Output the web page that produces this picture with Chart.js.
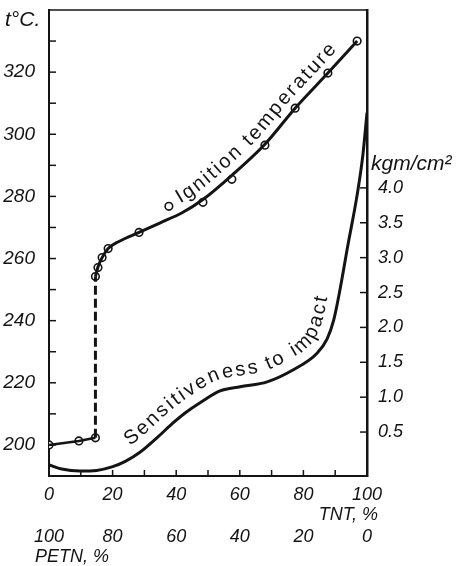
<!DOCTYPE html>
<html><head><meta charset="utf-8">
<script src="https://cdn.jsdelivr.net/npm/chart.js@4.4.0/dist/chart.umd.min.js"></script>
<style>html,body{margin:0;padding:0;background:#fff}</style>
</head><body>
<canvas id="c" width="461" height="566"></canvas>
<script>
// ---- data ----
const tntTicks = [0, 20, 40, 60, 80, 100];
const petnLabels = ['100', '80', '60', '40', '20', '0'];
const tempTicks = [200, 220, 240, 260, 280, 300, 320];
const tempMinorTicks = [200, 210, 220, 230, 240, 250, 260, 270, 280, 290, 300, 310, 320, 330];
const tntMinorTicks = [10, 20, 30, 40, 50, 60, 70, 80, 90];
const impactTicks = [0.5, 1.0, 1.5, 2.0, 2.5, 3.0, 3.5, 4.0];

// ignition temperature, low-TNT segment (solid)
const ignLowX = [0, 9.4, 14.6];
const ignLowY = [200, 201.3, 202.3];
// jump (dashed)
const ignJumpX = [14.6, 14.6];
const ignJumpY = [202.3, 254.2];
// smoothed ignition curve
const ignCurveX = [14.6, 15.4, 16.7, 18.6, 22, 28.3, 35, 42, 48.4, 57.5, 67.9, 77.4, 87.7, 96.9];
const ignCurveY = [254.2, 257.3, 260.3, 263.2, 265.5, 268.4, 271.5, 274.8, 279, 286.8, 296.8, 308.4, 319.7, 330];
// measured points (circles)
const ignPointX = [0, 9.4, 14.6, 14.6, 15.4, 16.7, 18.6, 28.3, 37.7, 48.4, 57.5, 67.9, 77.4, 87.7, 96.9];
const ignPointY = [200, 201.3, 202.3, 254.2, 257.1, 260.3, 263.2, 268.4, 276.8, 278.1, 285.5, 296.5, 308.4, 319.7, 330.0];
// sensitiveness to impact (kgm/cm2)
const sensX = [0, 4, 9.7, 15, 19.8, 24, 28.6, 34, 39, 43, 47.5, 53.8, 60.1, 68.6, 76.7, 84.3, 87.5, 89.5, 91.5, 94, 96.9, 98.7, 100];
const sensY = [0.03, -0.03, -0.06, -0.05, 0.0, 0.08, 0.21, 0.42, 0.63, 0.78, 0.92, 1.09, 1.15, 1.22, 1.39, 1.63, 1.84, 2.1, 2.54, 3.18, 3.9, 4.47, 5.08];

const zip = (xs, ys) => xs.map((x, i) => ({x, y: ys[i]}));
const INK = '#141414';
const FAM = "'Liberation Sans',Arial,sans-serif";
const TICKFONT = {family: FAM, size: 19, style: 'italic'};

function fixSize(prop, val) {
  return function (s) {
    s[prop] = val;
    s.paddingTop = 0; s.paddingBottom = 0; s.paddingLeft = 0; s.paddingRight = 0;
  };
}

// sample the rendered bezier of a line dataset
function sampleCurve(meta) {
  const pts = meta.data, out = [];
  for (let i = 0; i < pts.length - 1; i++) {
    const a = pts[i], b = pts[i + 1];
    const c1x = a.cp2x ?? a.x, c1y = a.cp2y ?? a.y, c2x = b.cp1x ?? b.x, c2y = b.cp1y ?? b.y;
    for (let k = 0; k < 30; k++) {
      const t = k / 30, u = 1 - t;
      out.push({
        x: u*u*u*a.x + 3*u*u*t*c1x + 3*u*t*t*c2x + t*t*t*b.x,
        y: u*u*u*a.y + 3*u*u*t*c1y + 3*u*t*t*c2y + t*t*t*b.y
      });
    }
  }
  const l = pts[pts.length - 1];
  out.push({x: l.x, y: l.y});
  return out;
}

function textOnCurve(ctx, text, meta, startPx, endPx, off, font) {
  const c = sampleCurve(meta);
  const q = [];
  for (let i = 0; i < c.length; i++) {
    const a = c[Math.max(0, i - 3)], b = c[Math.min(c.length - 1, i + 3)];
    let tx = b.x - a.x, ty = b.y - a.y; const L = Math.hypot(tx, ty) || 1; tx /= L; ty /= L;
    q.push({x: c[i].x + ty * off, y: c[i].y - tx * off, cx: c[i].x});
  }
  const cum = [0];
  for (let i = 1; i < q.length; i++) cum.push(cum[i - 1] + Math.hypot(q[i].x - q[i - 1].x, q[i].y - q[i - 1].y));
  const idxAt = px => { for (let i = 0; i < q.length; i++) if (q[i].cx >= px) return i; return q.length - 1; };
  const s0 = cum[idxAt(startPx)], s1 = cum[idxAt(endPx)];
  ctx.save();
  ctx.font = font; ctx.fillStyle = INK; ctx.textAlign = 'center'; ctx.textBaseline = 'alphabetic';
  const chars = [...text], ws = chars.map(ch => ctx.measureText(ch).width);
  const W = ws.reduce((p, v) => p + v, 0);
  const gap = (s1 - s0 - W) / (chars.length - 1);
  let s = s0;
  chars.forEach((ch, i) => {
    const sc = s + ws[i] / 2;
    let j = 1; while (j < cum.length - 1 && cum[j] < sc) j++;
    const f = (sc - cum[j - 1]) / ((cum[j] - cum[j - 1]) || 1);
    const x = q[j - 1].x + (q[j].x - q[j - 1].x) * f, y = q[j - 1].y + (q[j].y - q[j - 1].y) * f;
    const j0 = Math.max(0, j - 4), j1 = Math.min(q.length - 1, j + 3);
    const ang = Math.atan2(q[j1].y - q[j0].y, q[j1].x - q[j0].x);
    ctx.save(); ctx.translate(x, y); ctx.rotate(ang); ctx.fillText(ch, 0, 0); ctx.restore();
    s += ws[i] + gap;
  });
  ctx.restore();
}

const decor = {
  id: 'decor',
  afterDraw(chart) {
    const {ctx, chartArea: ca, scales} = chart;
    const xs = scales.x, ys = scales.y, y2 = scales.y2;
    ctx.save();
    ctx.strokeStyle = INK; ctx.lineWidth = 1.5;
    // top frame line
    ctx.beginPath(); ctx.moveTo(ca.left, ca.top); ctx.lineTo(ca.right, ca.top); ctx.stroke();
    // inward ticks
    tempMinorTicks.forEach(v => { const p = ys.getPixelForValue(v); ctx.beginPath(); ctx.moveTo(ca.left, p); ctx.lineTo(ca.left + 7, p); ctx.stroke(); });
    impactTicks.forEach(v => { const p = y2.getPixelForValue(v); ctx.beginPath(); ctx.moveTo(ca.right, p); ctx.lineTo(ca.right - 7, p); ctx.stroke(); });
    tntMinorTicks.forEach(v => { const p = xs.getPixelForValue(v); ctx.beginPath(); ctx.moveTo(p, ca.bottom); ctx.lineTo(p, ca.bottom - 6); ctx.stroke(); });
    // axis titles
    ctx.fillStyle = INK; ctx.textBaseline = 'alphabetic';
    ctx.font = "italic 21px " + FAM;
    ctx.textAlign = 'left'; ctx.fillText('t°C.', 5, 26);
    ctx.fillText('kgm/cm²', ca.right + 4, 170);
    ctx.font = "italic 18px " + FAM;
    ctx.textAlign = 'right'; ctx.fillText('TNT, %', ca.right + 11, 520);
    ctx.textAlign = 'left'; ctx.fillText('PETN, %', 35, 562);
    ctx.restore();
    // curve labels
    const f = "20px " + FAM;
    textOnCurve(ctx, 'Ignition temperature', chart.getDatasetMeta(2), 184, 343, 9, f);
    textOnCurve(ctx, 'Sensitiveness to impact', chart.getDatasetMeta(4), 136, 338, 11, f);
  }
};

new Chart(document.getElementById('c'), {
  type: 'line',
  data: {
    datasets: [
      {data: zip(ignLowX, ignLowY), yAxisID: 'y', borderColor: INK, borderWidth: 2.5, pointRadius: 0, tension: 0},
      {data: zip(ignJumpX, ignJumpY), yAxisID: 'y', borderColor: INK, borderWidth: 3, borderDash: [9, 4], pointRadius: 0, tension: 0},
      {data: zip(ignCurveX, ignCurveY), yAxisID: 'y', borderColor: INK, borderWidth: 3, pointRadius: 0, cubicInterpolationMode: 'monotone'},
      {data: zip(ignPointX, ignPointY), yAxisID: 'y', showLine: false, pointRadius: 3.8, pointBorderWidth: 1.6, pointBackgroundColor: '#fff', pointBorderColor: INK},
      {data: zip(sensX, sensY), yAxisID: 'y2', borderColor: INK, borderWidth: 3, pointRadius: 0, cubicInterpolationMode: 'monotone'}
    ]
  },
  options: {
    responsive: false, animation: false, devicePixelRatio: 1,
    layout: {padding: {top: 10, left: 0, right: 0, bottom: 0}},
    plugins: {legend: {display: false}, tooltip: {enabled: false}},
    scales: {
      x: {
        type: 'linear', position: 'bottom', min: 0, max: 100, weight: 0,
        afterBuildTicks: s => { s.ticks = tntTicks.map(v => ({value: v})); },
        afterFit: fixSize('height', 42),
        ticks: {font: {...TICKFONT, size: 18}, color: INK, padding: 0, maxRotation: 0, autoSkip: false},
        grid: {display: false}, border: {display: true, color: INK, width: 2}
      },
      x2: {
        type: 'linear', position: 'bottom', min: 0, max: 100, weight: 1,
        afterBuildTicks: s => { s.ticks = tntTicks.map(v => ({value: v})); },
        afterFit: fixSize('height', 48),
        ticks: {font: {...TICKFONT, size: 18}, color: INK, padding: 0, maxRotation: 0, autoSkip: false,
          callback: (v, i) => petnLabels[i]},
        grid: {display: false}, border: {display: false}
      },
      y: {
        type: 'linear', position: 'left', min: 190, max: 340,
        afterBuildTicks: s => { s.ticks = tempTicks.map(v => ({value: v})); },
        afterFit: fixSize('width', 49),
        ticks: {font: TICKFONT, color: INK, padding: 6},
        grid: {display: false}, border: {display: true, color: INK, width: 2}
      },
      y2: {
        type: 'linear', position: 'right', min: -0.13, max: 6.55,
        afterBuildTicks: s => { s.ticks = impactTicks.map(v => ({value: v})); },
        afterFit: fixSize('width', 94),
        ticks: {font: {...TICKFONT, size: 18}, color: INK, padding: 3, callback: v => v.toFixed(1)},
        grid: {display: false}, border: {display: true, color: INK, width: 2.5}
      }
    }
  },
  plugins: [decor]
});
</script>
</body></html>
